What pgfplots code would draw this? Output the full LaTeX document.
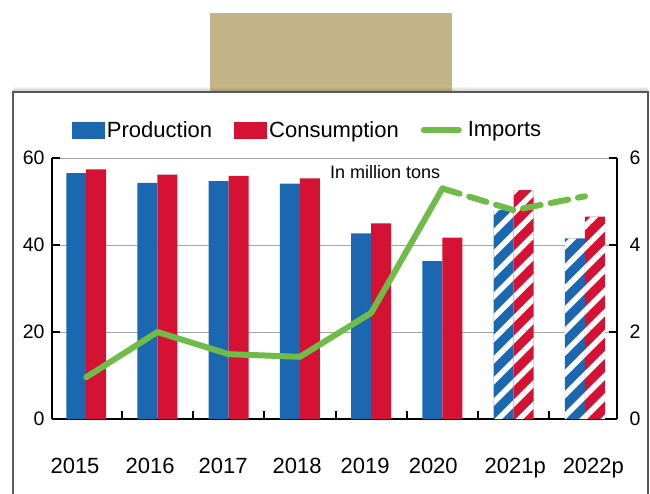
\documentclass[border=0pt]{standalone}
\usepackage{pgfplots}
\pgfplotsset{compat=1.18}
\usepackage{fontspec}
\setmainfont{Liberation Sans}
\usetikzlibrary{patterns.meta}

\definecolor{prodblue}{RGB}{28,104,176}
\definecolor{consred}{RGB}{214,18,52}
\definecolor{impgreen}{RGB}{112,188,72}
\definecolor{khaki}{RGB}{195,180,135}
\definecolor{gridgray}{RGB}{165,165,165}

% bars: 0 = 2015 ... 7 = 2022p
\pgfplotstableread{
x prod cons
0 56.5 57.4
1 54.3 56.2
2 54.7 55.9
3 54.1 55.3
4 42.7 45.0
5 36.3 41.7
}\actual
\pgfplotstableread{
x prod cons
6 48.0 52.6
7 41.5 46.5
}\forecast
% imports, right axis
\pgfplotstableread{
x imp
0 0.96
1 2.00
2 1.49
3 1.43
4 2.44
5 5.30
}\impsolid
\pgfplotstableread{
x imp
5 5.30
6 4.80
7 5.12
}\impdash

\begin{document}
\begin{tikzpicture}[x=1pt,y=1pt]
\useasboundingbox (0,0) rectangle (650,493);
\shade[top color=white, bottom color=black!25] (13,401) rectangle (648,407);
\fill[khaki] (210,401) rectangle (452,480);
\shade[top color=khaki, bottom color=khaki!80!black] (210,401) rectangle (452,406);
\draw[black!65, line width=1.5pt] (13,-10) -- (13,401) -- (648,401) -- (648,-10);

\begin{axis}[
    scale only axis, width=565pt, height=261pt,
    at={(52pt,74pt)}, anchor=south west,
    xmin=-0.48, xmax=7.45, ymin=0, ymax=60,
    axis x line*=bottom, axis y line*=left,
    xtick pos=bottom, ytick pos=left,
    axis line style={line width=2.5pt},
    ytick={0,20,40,60},
    ymajorgrids, grid style={draw=gridgray, line width=0.8pt},
    tick align=inside, major tick length=8pt,
    tick style={black, line width=2pt},
    xtick={0.5,1.5,...,6.5}, xticklabels={},
    extra x ticks={-0.157,0.896,1.922,2.961,3.916,4.871,6.023,7.118},
    extra x tick labels={2015,2016,2017,2018,2019,2020,2021p,2022p},
    extra x tick style={major tick length=0pt,
        tick label style={font=\fontsize{22}{24}\selectfont, yshift=-36pt}},
    yticklabel style={font=\fontsize{19.5}{21}\selectfont, xshift=-4pt},
    /pgf/number format/assume math mode=true,
    legend style={draw=none, fill=none, at={(0.035,1.107)}, anchor=west,
        inner sep=0pt, font=\fontsize{22}{24}\selectfont,
        nodes={inner xsep=2pt},
        /tikz/every even column/.append style={column sep=20pt}},
    legend columns=3, legend cell align=left,
    clip=false,
]
\addplot[ybar, bar width=0.28, bar shift=-0.14, fill=prodblue, draw=none,
    legend image code/.code={\fill[prodblue] (0pt,-8.5pt) rectangle (33pt,8.5pt);}]
    table[x=x, y=prod] {\actual};
\addlegendentry{Production}
\addplot[ybar, bar width=0.28, bar shift=0.14, fill=consred, draw=none,
    legend image code/.code={\fill[consred] (0pt,-8.5pt) rectangle (33pt,8.5pt);}]
    table[x=x, y=cons] {\actual};
\addlegendentry{Consumption\hspace{22pt}}
\addplot[ybar, bar width=0.28, bar shift=-0.14, fill=prodblue, draw=none, forget plot,
    postaction={pattern={Lines[angle=45,distance=15pt,line width=5.5pt]}, pattern color=white}]
    table[x=x, y=prod] {\forecast};
\addplot[ybar, bar width=0.28, bar shift=0.14, fill=consred, draw=none, forget plot,
    postaction={pattern={Lines[angle=45,distance=15pt,line width=5.5pt]}, pattern color=white}]
    table[x=x, y=cons] {\forecast};
\addlegendimage{legend image code/.code={\draw[impgreen, line width=6pt, line cap=round] (3pt,0pt) -- (38pt,0pt);}}
\addlegendentry{\hspace{4pt}Imports}
\node[anchor=west, inner sep=0pt, font=\fontsize{18}{20}\selectfont] at (axis cs:3.42,56.8) {In million tons};
\end{axis}

\begin{axis}[
    scale only axis, width=565pt, height=261pt,
    at={(52pt,74pt)}, anchor=south west,
    xmin=-0.48, xmax=7.45, ymin=0, ymax=6,
    axis x line=none, axis y line*=right, ytick pos=right,
    xtick=\empty, ytick={0,2,4,6},
    axis line style={line width=2.5pt},
    tick align=inside, major tick length=8pt,
    tick style={black, line width=2pt},
    yticklabel style={font=\fontsize{19.5}{21}\selectfont, xshift=9pt},
    /pgf/number format/assume math mode=true,
    clip=false,
]
\addplot[impgreen, line width=6pt, line join=round, line cap=round]
    table[x=x, y=imp] {\impsolid};
\addplot[impgreen, line width=6pt, line join=round, line cap=round,
    dash pattern=on 18pt off 10pt]
    table[x=x, y=imp] {\impdash};
\end{axis}
\end{tikzpicture}
\end{document}
